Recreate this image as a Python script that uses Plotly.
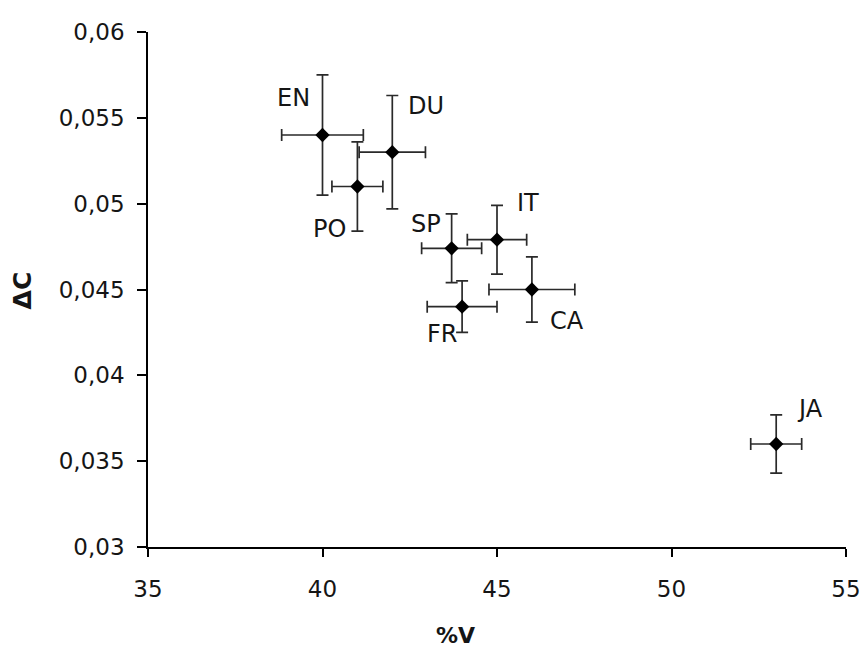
import plotly.graph_objects as go

# Data
languages = ["EN", "DU", "PO", "SP", "IT", "CA", "FR", "JA"]
pct_v = [40.0, 42.0, 41.0, 43.7, 45.0, 46.0, 44.0, 53.0]
delta_c = [0.0540, 0.0530, 0.0510, 0.0474, 0.0479, 0.0450, 0.0440, 0.0360]
err_v = [1.17, 0.95, 0.73, 0.86, 0.85, 1.23, 1.00, 0.73]
err_c = [0.0035, 0.0033, 0.0026, 0.0020, 0.0020, 0.0019, 0.0015, 0.0017]

x_ticks = [35, 40, 45, 50, 55]
y_ticks = [0.03, 0.035, 0.04, 0.045, 0.05, 0.055, 0.06]
y_tick_text = ["0,03", "0,035", "0,04", "0,045", "0,05", "0,055", "0,06"]

# label pixel offsets (style only)
label_dx = {"EN": -29, "DU": 34, "PO": -28, "SP": -26, "IT": 31, "CA": 35, "FR": -20, "JA": 34}
label_dy = {"EN": 37, "DU": 46, "PO": -42, "SP": 24, "IT": 37, "CA": -31, "FR": -27, "JA": 35}

INK = "#151515"
FONT = "DejaVu Sans"

fig = go.Figure()
fig.add_trace(go.Scatter(
    x=pct_v, y=delta_c, mode="markers",
    marker=dict(symbol="diamond", size=11, color="black"),
    error_x=dict(type="data", array=err_v, visible=True, color="#2a2a2a", thickness=1.7, width=6),
    error_y=dict(type="data", array=err_c, visible=True, color="#2a2a2a", thickness=1.7, width=6),
    showlegend=False, hoverinfo="skip",
))

annotations = []
for lab, xv, yv in zip(languages, pct_v, delta_c):
    annotations.append(dict(
        x=xv, y=yv, xref="x", yref="y", text=lab, showarrow=False,
        xshift=label_dx[lab], yshift=label_dy[lab],
        xanchor="center", yanchor="middle",
        font=dict(family=FONT, size=24, color=INK),
    ))

annotations.append(dict(
    x=0.441, y=-0.171, xref="paper", yref="paper", text="<b>%V</b>",
    xanchor="center", yanchor="middle",
    showarrow=False, font=dict(family=FONT, size=22, color=INK),
))
annotations.append(dict(
    x=-0.180, y=0.499, xref="paper", yref="paper", text="<b>ΔC</b>",
    xanchor="center", yanchor="middle",
    showarrow=False, textangle=-90, font=dict(family=FONT, size=25, color=INK),
))

fig.update_layout(
    template="none",
    width=865, height=651,
    margin=dict(l=148, r=19, t=32, b=104),
    paper_bgcolor="white", plot_bgcolor="white",
    font=dict(family=FONT, color=INK),
    annotations=annotations,
    xaxis=dict(
        range=[35, 55], tickvals=x_ticks, showgrid=False, zeroline=False,
        automargin=False,
        showline=True, linecolor="black", linewidth=1.7,
        ticks="outside", ticklen=8, tickwidth=1.5, tickcolor="black",
        tickfont=dict(family=FONT, size=23, color=INK), ticklabelstandoff=13,
    ),
    yaxis=dict(
        range=[0.03, 0.06], tickvals=y_ticks, ticktext=y_tick_text,
        showgrid=False, zeroline=False,
        automargin=False,
        showline=True, linecolor="black", linewidth=1.7,
        ticks="outside", ticklen=9, tickwidth=1.5, tickcolor="black",
        tickfont=dict(family=FONT, size=23, color=INK), ticklabelstandoff=8,
    ),
)

# remove the default page margin so the 865x651 figure fills the window exactly
fig.write_html(
    "out.html",
    config={"displayModeBar": False},
    post_script="document.body.style.margin='0';document.body.style.overflow='hidden';",
)
